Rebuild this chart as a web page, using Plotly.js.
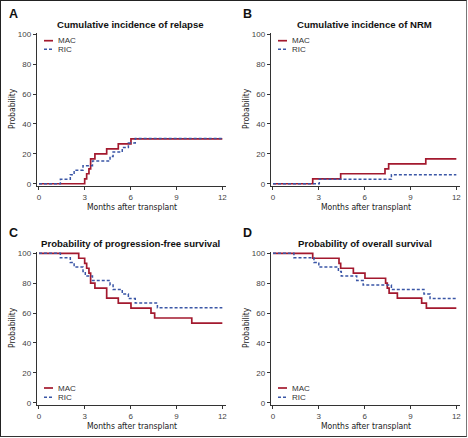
<!DOCTYPE html>
<html>
<head>
<meta charset="utf-8">
<script src="https://cdn.plot.ly/plotly-3.0.1.min.js"></script>
<style>
  html, body { margin: 0; padding: 0; background: #fff; }
  #frame { position: absolute; left: 0; top: 0; width: 465px; height: 435px; border: 1px solid #222; border-right-color: #777; border-bottom-color: #333; }
  #chart { position: absolute; left: 0; top: 0; width: 468px; height: 438px; }
</style>
</head>
<body>
<div id="chart"></div>
<div id="frame"></div>
<script>
// ---- Data (months after transplant, probability %) ----
const panelLetters = ["A", "B", "C", "D"];
const panelTitles = [
  "Cumulative incidence of relapse",
  "Cumulative incidence of NRM",
  "Probability of progression-free survival",
  "Probability of overall survival"
];
const groupNames = ["MAC", "RIC"];
const xTitle = "Months after transplant";
const yTitle = "Probability";
const xTicks = [0, 3, 6, 9, 12];
const yTicks = [0, 20, 40, 60, 80, 100];

const relapseMAC_t = [0, 2.99, 3.12, 3.27, 3.38, 3.66, 4.43, 5.19, 6.02, 12];
const relapseMAC_v = [0, 3.3, 6.7, 10.0, 16.7, 20.0, 23.3, 26.7, 30.0, 30.0];
const relapseRIC_t = [0, 1.4, 2.05, 2.3, 2.88, 3.5, 4.65, 4.85, 5.45, 5.85, 6.3, 12];
const relapseRIC_v = [0, 3.0, 6.1, 9.1, 12.1, 15.2, 18.2, 21.2, 24.2, 27.3, 30.3, 30.3];

const nrmMAC_t = [0, 2.6, 4.43, 7.33, 7.57, 10.0, 12];
const nrmMAC_v = [0, 3.3, 6.7, 10.0, 13.3, 16.7, 16.7];
const nrmRIC_t = [0, 3.03, 7.75, 12];
const nrmRIC_v = [0, 3.0, 6.1, 6.1];

const pfsMAC_t = [0, 2.6, 2.99, 3.12, 3.27, 3.38, 3.66, 4.43, 5.19, 6.02, 7.33, 7.57, 10.0, 12];
const pfsMAC_v = [100, 96.7, 93.3, 90.0, 86.7, 80.0, 76.7, 70.0, 66.7, 63.3, 60.0, 56.7, 53.3, 53.3];
const pfsRIC_t = [0, 1.4, 2.05, 2.3, 2.88, 3.03, 3.5, 4.65, 4.85, 5.45, 5.85, 6.3, 7.75, 12];
const pfsRIC_v = [100, 97.0, 93.9, 90.9, 87.9, 84.8, 81.8, 78.8, 75.8, 72.7, 69.7, 66.7, 63.6, 63.6];

const osMAC_t = [0, 2.6, 4.32, 4.43, 5.26, 6.02, 7.37, 7.48, 7.6, 8.14, 9.73, 10.04, 12];
const osMAC_v = [100, 96.7, 93.3, 90.0, 86.7, 83.3, 80.0, 76.7, 73.3, 70.0, 66.7, 63.3, 63.3];
const osRIC_t = [0, 1.37, 2.68, 3.0, 4.28, 4.47, 5.48, 5.9, 7.75, 9.88, 10.28, 12];
const osRIC_v = [100, 97.0, 93.9, 90.9, 87.9, 84.8, 81.8, 78.8, 75.8, 72.7, 69.7, 69.7];

// ---- Styling / layout ----
const W = 468, H = 438;
const MAC_COLOR = "#a3192e";
const RIC_COLOR = "#3a56a6";
const FONT = "Liberation Sans, Arial, sans-serif";
const NARROW = "Liberation Sans Narrow, DejaVu Sans Condensed, Arial Narrow, sans-serif";

const px2x = p => p / W;
const px2y = p => 1 - p / H;

const offX = [0, 234, 0, 234];
const offY = [0, 0, 219, 219];
const baseL = 36.7, baseR = 225.7, baseT = 32.8, baseB = 186;

const series = [
  [[relapseMAC_t, relapseMAC_v], [relapseRIC_t, relapseRIC_v]],
  [[nrmMAC_t, nrmMAC_v], [nrmRIC_t, nrmRIC_v]],
  [[pfsMAC_t, pfsMAC_v], [pfsRIC_t, pfsRIC_v]],
  [[osMAC_t, osMAC_v], [osRIC_t, osRIC_v]]
];

const traces = [];
const layout = {
  width: W, height: H,
  margin: {l: 0, r: 0, t: 0, b: 0},
  paper_bgcolor: "#fff", plot_bgcolor: "#fff",
  showlegend: false,
  font: {family: FONT, color: "#333"},
  annotations: [], shapes: []
};

for (let i = 0; i < 4; i++) {
  const k = i === 0 ? "" : String(i + 1);
  const xa = "x" + k, ya = "y" + k;
  const L = baseL + offX[i], R = baseR + offX[i], T = baseT + offY[i], B = baseB + offY[i];

  series[i].forEach((s, j) => {
    traces.push({
      x: s[0], y: s[1], type: "scatter", mode: "lines",
      name: groupNames[j], xaxis: xa, yaxis: ya,
      line: {shape: "hv", color: j === 0 ? MAC_COLOR : RIC_COLOR, width: j === 0 ? 1.7 : 1.5,
             dash: j === 0 ? "solid" : "3px,2px"},
      hoverinfo: "skip"
    });
  });

  layout["xaxis" + k] = {
    domain: [px2x(L), px2x(R)], anchor: ya,
    range: [-0.15, 12.22], tickvals: xTicks, ticktext: xTicks.map(String),
    ticks: "outside", ticklen: 3, tickwidth: 1, tickcolor: "#333",
    showline: true, linecolor: "#333", linewidth: 1,
    showgrid: false, zeroline: false,
    tickfont: {size: 8, color: "#444", family: FONT}
  };
  layout["yaxis" + k] = {
    domain: [px2y(B), px2y(T)], anchor: xa,
    range: [-1.5, 101], tickvals: yTicks, ticktext: yTicks.map(String),
    ticks: "outside", ticklen: 3, tickwidth: 1, tickcolor: "#333",
    showline: true, linecolor: "#333", linewidth: 1,
    showgrid: false, zeroline: false,
    tickfont: {size: 8, color: "#444", family: FONT}
  };

  // Axis titles
  layout.annotations.push({
    xref: "paper", yref: "paper", x: px2x(132 + offX[i]), y: px2y(207 + offY[i]),
    xanchor: "center", yanchor: "middle", showarrow: false,
    text: xTitle, font: {size: 8.5, family: NARROW, color: "#222"}
  });
  layout.annotations.push({
    xref: "paper", yref: "paper", x: px2x(12 + offX[i]), y: px2y(109 + offY[i]),
    xanchor: "center", yanchor: "middle", showarrow: false, textangle: -90,
    text: yTitle, font: {size: 8.5, family: NARROW, color: "#222"}
  });

  // Panel letter
  layout.annotations.push({
    xref: "paper", yref: "paper", x: px2x(7 + offX[i]), y: px2y(14 + offY[i]),
    xanchor: "left", yanchor: "middle", showarrow: false,
    text: "<b>" + panelLetters[i] + "</b>", font: {size: 12.5, family: FONT, color: "#111"}
  });
  // Panel title
  layout.annotations.push({
    xref: "paper", yref: "paper", x: px2x((L + R) / 2 - 0.5), y: px2y(24.5 + offY[i]),
    xanchor: "center", yanchor: "middle", showarrow: false,
    text: "<b>" + panelTitles[i] + "</b>", font: {size: 9.6, family: FONT, color: "#111"}
  });

  // Legend (top-left for A,B; bottom-left for C,D)
  const rows = i < 2 ? [40.7, 49.3] : [388 - 219, 397.3 - 219];
  rows.forEach((ry, j) => {
    const yy = px2y(ry + offY[i]);
    layout.shapes.push({
      type: "line", xref: "paper", yref: "paper",
      x0: px2x(44 + offX[i]), x1: px2x(53 + offX[i]), y0: yy, y1: yy,
      line: {color: j === 0 ? MAC_COLOR : RIC_COLOR, width: j === 0 ? 1.7 : 1.5, dash: j === 0 ? "solid" : "3px,2px"}
    });
    layout.annotations.push({
      xref: "paper", yref: "paper", x: px2x(55.5 + offX[i]), y: yy,
      xanchor: "left", yanchor: "middle", showarrow: false,
      text: groupNames[j], font: {size: 8, family: FONT, color: "#333"}
    });
  });
}

Plotly.newPlot("chart", traces, layout, {staticPlot: true, displayModeBar: false});
</script>
</body>
</html>
